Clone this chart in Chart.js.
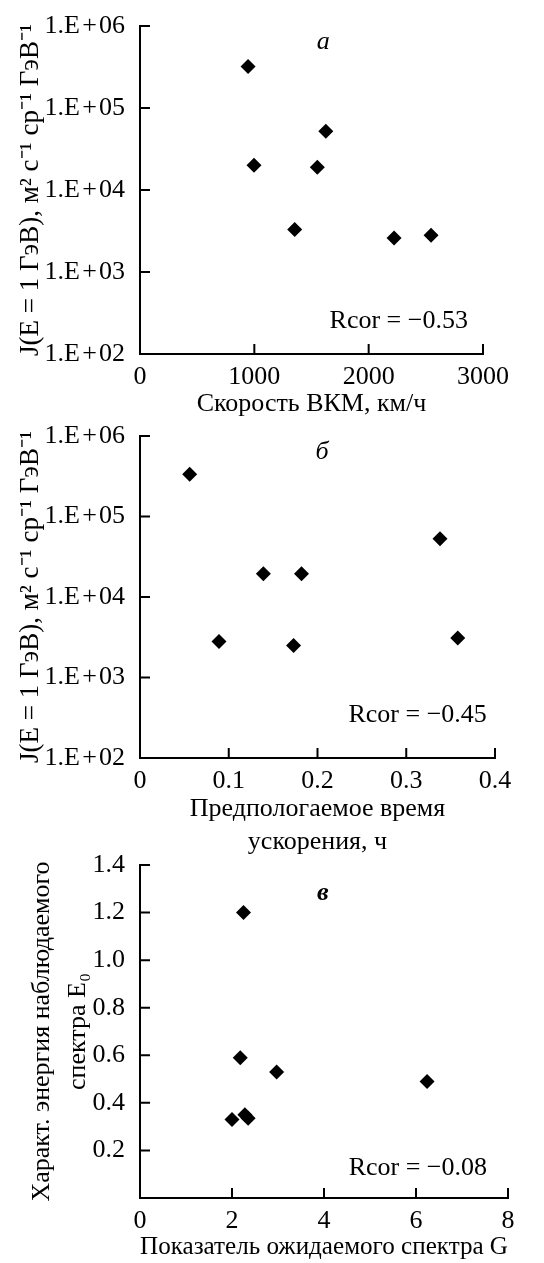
<!DOCTYPE html>
<html>
<head>
<meta charset="utf-8">
<script src="https://cdn.jsdelivr.net/npm/chart.js@4"></script>
<style>
  html, body { margin: 0; padding: 0; background: #fff; }
  #wrap { position: relative; width: 544px; height: 1263px; overflow: hidden; }
  .panel { position: absolute; left: 0; }
</style>
</head>
<body>
<div id="wrap">
  <canvas class="panel" id="chartA" width="544" height="420" style="top:0;width:544px;height:420px"></canvas>
  <canvas class="panel" id="chartB" width="544" height="460" style="top:400px;width:544px;height:460px"></canvas>
  <canvas class="panel" id="chartC" width="544" height="433" style="top:830px;width:544px;height:433px"></canvas>
</div>
<script>
// panel a: speed of the CME vs flux at 1 GeV
const speedKmH = [945, 997, 1625, 1551, 1353, 2222, 2546];
const fluxA = [3.2e5, 2.0e4, 5.2e4, 1.9e4, 3.3e3, 2.6e3, 2.8e3];

// panel b: assumed acceleration time vs flux at 1 GeV
const accelTimeH = [0.056, 0.089, 0.139, 0.173, 0.182, 0.338, 0.358];
const fluxB = [3.35e5, 2.8e3, 1.95e4, 2.5e3, 1.95e4, 5.3e4, 3.1e3];

// panel c: expected spectrum index G vs characteristic energy E0
const spectrumG = [2.25, 2.18, 2.97, 6.24, 2.0, 2.28, 2.35];
const energyE0 = [1.2, 0.59, 0.53, 0.49, 0.33, 0.35, 0.335];

// tick labels
const logTicks = [1e2, 1e3, 1e4, 1e5, 1e6];
const speedTicks = [0, 1000, 2000, 3000];
const timeTicks = [0, 0.1, 0.2, 0.3, 0.4];
const gTicks = [0, 2, 4, 6, 8];
const e0Ticks = [0.2, 0.4, 0.6, 0.8, 1.0, 1.2, 1.4];

const FONT = 'Liberation Serif';
const fs = 26;

function logLabel(v) {
  const e = Math.round(Math.log10(v));
  return '1.E\u200a+\u200a' + (e < 10 ? '0' : '') + e;
}

// inward tick marks + panel letter + correlation text
const panelMarks = {
  id: 'panelMarks',
  afterDraw(chart, args, opts) {
    const ctx = chart.ctx;
    const a = chart.chartArea;
    const xs = chart.scales.x, ys = chart.scales.y;
    ctx.save();
    ctx.strokeStyle = '#000';
    ctx.lineWidth = 2;
    ctx.beginPath();
    xs.ticks.forEach(t => {
      const px = xs.getPixelForValue(t.value);
      ctx.moveTo(px, a.bottom);
      ctx.lineTo(px, a.bottom - 10);
    });
    ys.ticks.forEach(t => {
      const py = ys.getPixelForValue(t.value);
      ctx.moveTo(a.left, py);
      ctx.lineTo(a.left + 10, py);
    });
    ctx.stroke();

    ctx.fillStyle = '#000';
    ctx.textBaseline = 'middle';
    ctx.font = opts.letterFont + ' ' + fs + 'px "' + FONT + '"';
    ctx.textAlign = 'center';
    ctx.fillText(opts.letter, a.left + opts.letterPos[0] * (a.right - a.left), a.top + opts.letterPos[1] * (a.bottom - a.top));
    ctx.font = fs + 'px "' + FONT + '"';
    ctx.textAlign = 'right';
    ctx.fillText(opts.rcor, a.left + opts.rcorPos[0] * (a.right - a.left), a.top + opts.rcorPos[1] * (a.bottom - a.top));
    ctx.restore();
  }
};

function scatterChart(id, c) {
  return new Chart(document.getElementById(id).getContext('2d'), {
    type: 'scatter',
    data: {
      datasets: [{
        data: c.x.map((v, i) => ({ x: v, y: c.y[i] })),
        pointStyle: 'rectRot',
        pointRadius: 7.5,
        pointHoverRadius: 7.5,
        backgroundColor: '#000',
        borderColor: '#000',
        borderWidth: 0
      }]
    },
    options: {
      responsive: false,
      animation: false,
      events: [],
      layout: { padding: { left: 0, top: c.top, right: c.right, bottom: 0 } },
      plugins: {
        legend: { display: false },
        tooltip: { enabled: false },
        panelMarks: c.marks
      },
      scales: {
        x: {
          type: 'linear',
          min: c.xTicks[0],
          max: c.xTicks[c.xTicks.length - 1],
          grid: { display: false },
          border: { color: '#000', width: 2 },
          ticks: {
            color: '#000',
            font: { family: FONT, size: fs },
            padding: 0,
            maxRotation: 0,
            autoSkip: false,
            callback: v => String(v)
          },
          afterBuildTicks: s => { s.ticks = c.xTicks.map(v => ({ value: v })); },
          afterFit: s => { s.height = c.xHeight; },
          title: {
            display: true,
            text: c.xTitle,
            color: '#000',
            font: { family: FONT, size: fs, lineHeight: c.xLine || 1.2 },
            padding: { top: 0, bottom: c.xPad }
          }
        },
        y: {
          type: c.yType,
          min: c.yMin,
          max: c.yMax,
          grid: { display: false },
          border: { color: '#000', width: 2 },
          ticks: {
            color: '#000',
            font: { family: FONT, size: fs },
            padding: 7,
            autoSkip: false,
            callback: c.yFormat
          },
          afterBuildTicks: s => { s.ticks = c.yTicks.map(v => ({ value: v })); },
          afterFit: s => { s.width = 140; },
          title: {
            display: true,
            text: c.yTitle,
            color: '#000',
            font: { family: FONT, size: c.yTitleSize || fs, lineHeight: c.yLine || 1.2 },
            padding: { top: c.yPad, bottom: 0 }
          }
        }
      }
    },
    plugins: [panelMarks]
  });
}

window.onload = () => {
  scatterChart('chartA', {
    x: speedKmH, y: fluxA,
    xTicks: speedTicks, yTicks: logTicks,
    yType: 'logarithmic', yMin: 1e2, yMax: 1e6, yFormat: logLabel,
    top: 26, right: 61, xHeight: 66, xPad: 0,
    xTitle: 'Скорость ВКМ, км/ч',
    yTitle: 'J(E = 1 ГэВ), м² с⁻¹ ср⁻¹ ГэВ⁻¹', yPad: 15, yTitleSize: 27,
    marks: { letter: 'а', letterFont: 'italic', letterPos: [0.534, 0.05], rcor: 'Rcor = −0.53', rcorPos: [0.956, 0.9] }
  });

  scatterChart('chartB', {
    x: accelTimeH, y: fluxB,
    xTicks: timeTicks, yTicks: logTicks,
    yType: 'logarithmic', yMin: 1e2, yMax: 1e6, yFormat: logLabel,
    top: 36, right: 49, xHeight: 102, xPad: 2, xLine: 1.24,
    xTitle: ['Предпологаемое время', 'ускорения, ч'],
    yTitle: 'J(E = 1 ГэВ), м² с⁻¹ ср⁻¹ ГэВ⁻¹', yPad: 15, yTitleSize: 27,
    marks: { letter: 'б', letterFont: 'italic', letterPos: [0.513, 0.05], rcor: 'Rcor = −0.45', rcorPos: [0.977, 0.866] }
  });

  scatterChart('chartC', {
    x: spectrumG, y: energyE0,
    xTicks: gTicks, yTicks: e0Ticks,
    yType: 'linear', yMin: 0, yMax: 1.4, yFormat: v => v.toFixed(1),
    top: 35, right: 36, xHeight: 65, xPad: 0,
    xTitle: 'Показатель ожидаемого спектра G',
    yTitle: ['Характ. энергия наблюдаемого', 'спектра E₀'], yPad: 24, yLine: 1.4,
    marks: { letter: 'в', letterFont: 'italic bold', letterPos: [0.497, 0.084], rcor: 'Rcor = −0.08', rcorPos: [0.943, 0.91] }
  });
};
</script>
</body>
</html>
